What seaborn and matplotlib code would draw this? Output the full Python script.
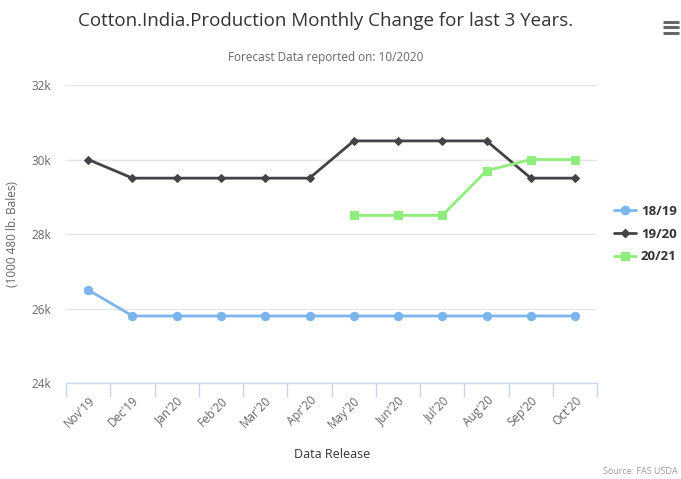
import numpy as np
import pandas as pd
import seaborn as sns
import matplotlib
matplotlib.use("Agg")
import matplotlib.pyplot as plt
from matplotlib.lines import Line2D

months = ["Nov'19", "Dec'19", "Jan'20", "Feb'20", "Mar'20", "Apr'20",
          "May'20", "Jun'20", "Jul'20", "Aug'20", "Sep'20", "Oct'20"]
s1819 = [26500, 25800, 25800, 25800, 25800, 25800, 25800, 25800, 25800, 25800, 25800, 25800]
s1920 = [30000, 29500, 29500, 29500, 29500, 29500, 30500, 30500, 30500, 30500, 29500, 29500]
s2021 = [None, None, None, None, None, None, 28500, 28500, 28500, 29700, 30000, 30000]
series_names = ["18/19", "19/20", "20/21"]
colors = ["#7cb5ec", "#434348", "#90ed7d"]
markers = ["o", "D", "s"]

sns.set_theme(style="white")
plt.rcParams['font.family'] = ['Open Sans', 'DejaVu Sans']

fig = plt.figure(figsize=(6.81, 4.79), dpi=100)
ax = fig.add_axes([0.097, 0.2004, 0.78, 0.6221])

idx = np.arange(len(months))
msize = [6, 4.5, 6]
for name, vals, c, m, ms in zip(series_names, [s1819, s1920, s2021], colors, markers, msize):
    df = pd.DataFrame({"x": idx, "y": pd.array(vals, dtype="float")}).dropna()
    sns.lineplot(data=df, x="x", y="y", ax=ax, color=c, marker=m, markersize=ms,
                 markeredgecolor=c, linewidth=2, label=name)

ax.set_xlim(-0.5, len(months) - 0.5)
ax.set_ylim(24000, 32000)
ax.set_yticks([24000, 26000, 28000, 30000, 32000])
ax.set_yticklabels(["24k", "26k", "28k", "30k", "32k"], color="#666666", fontsize=8.5)
ax.yaxis.grid(True, color="#e6e6e6", linewidth=1)
ax.tick_params(axis="y", length=0, pad=11)

ax.set_xticks(idx)
ax.set_xticklabels(months, rotation=45, ha="right", rotation_mode="anchor",
                   color="#666666", fontsize=8.5)
ax.set_xticks(np.arange(-0.5, len(months), 1.0), minor=True)
ax.tick_params(axis="x", which="major", length=0, pad=8)
ax.tick_params(axis="x", which="minor", length=10, width=1, color="#ccd6eb", bottom=True)

for sp in ["top", "right", "left"]:
    ax.spines[sp].set_visible(False)
ax.spines["bottom"].set_color("#ccd6eb")
ax.spines["bottom"].set_linewidth(1)

ax.set_xlabel("Data Release", color="#333333", fontsize=9, labelpad=12)
ax.set_ylabel("(1000 480 lb. Bales)", color="#666666", fontsize=8.5)
ax.yaxis.set_label_coords(-0.088, 0.5)

handles = [Line2D([0], [0], color=c, marker=m, markersize=ms, linewidth=2, markeredgecolor=c)
           for c, m, ms in zip(colors, markers, msize)]
leg = ax.legend(handles, series_names, loc="center left", bbox_to_anchor=(1.01, 0.5),
                frameon=False, handlelength=1.6, handletextpad=0.4, labelspacing=0.75,
                prop={"weight": "bold", "size": 9.5})
for t in leg.get_texts():
    t.set_color("#333333")

fig.text(0.478, 0.957, "Cotton.India.Production Monthly Change for last 3 Years.",
         ha="center", va="center", fontsize=13.5, color="#333333")
fig.text(0.478, 0.880, "Forecast Data reported on: 10/2020",
         ha="center", va="center", fontsize=8.5, color="#666666")
fig.text(0.995, 0.006, "Source: FAS USDA", ha="right", va="bottom",
         fontsize=6.5, color="#999999")

# menu icon
for yy in [0.954, 0.943, 0.932]:
    fig.add_artist(Line2D([0.973, 0.997], [yy, yy], color="#666666", linewidth=2.2,
                          transform=fig.transFigure, solid_capstyle="butt"))

fig.savefig("out.png", dpi=100)
